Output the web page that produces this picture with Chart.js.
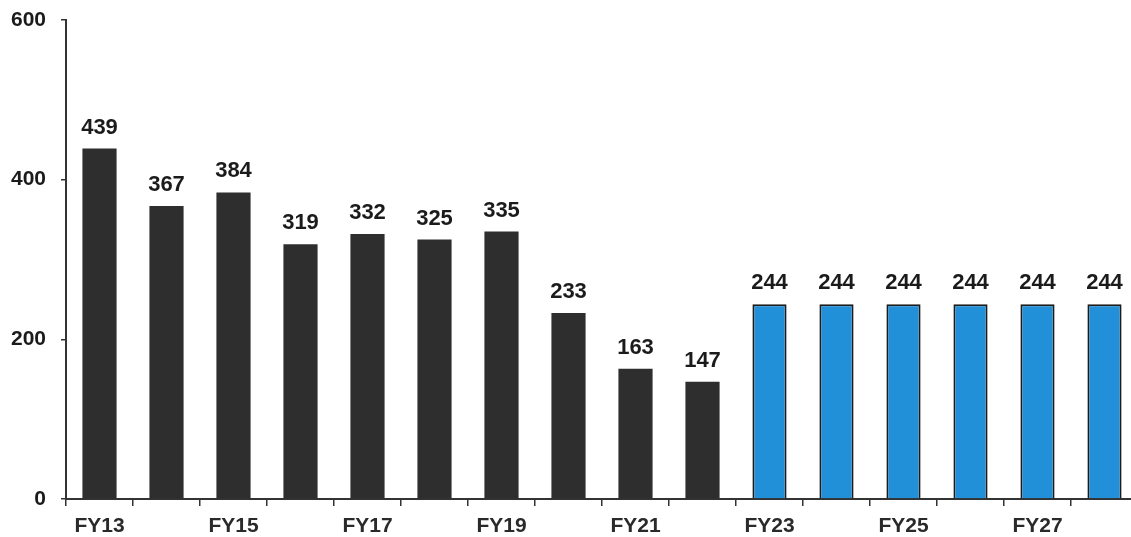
<!DOCTYPE html>
<html>
<head>
<meta charset="utf-8">
<script src="https://cdn.jsdelivr.net/npm/chart.js@4/dist/chart.umd.min.js"></script>
<style>
  html, body { margin: 0; padding: 0; background: #fff; overflow: hidden; }
  #wrap { width: 1140px; height: 537px; }
</style>
</head>
<body>
<div id="wrap"><canvas id="c" width="1140" height="537"></canvas></div>
<script>
// Fiscal years shown on the category axis
const years = ['FY13','FY14','FY15','FY16','FY17','FY18','FY19','FY20','FY21','FY22',
               'FY23','FY24','FY25','FY26','FY27','FY28'];
// Values per year (actuals followed by the flat projection)
const values = [439, 367, 384, 319, 332, 325, 335, 233, 163, 147,
                244, 244, 244, 244, 244, 244];
// Which years are projected
const projected = [false,false,false,false,false,false,false,false,false,false,
                   true,true,true,true,true,true];
// Value axis ticks
const yTicks = [0, 200, 400, 600];

const FONT = '"Liberation Sans", Arial, sans-serif';

// Writes each bar's value above it
const valueLabels = {
  id: 'valueLabels',
  afterDatasetsDraw(chart) {
    const ctx = chart.ctx;
    const meta = chart.getDatasetMeta(0);
    ctx.save();
    ctx.font = 'bold 22px ' + FONT;
    ctx.fillStyle = '#1b1b1b';
    ctx.textAlign = 'center';
    ctx.textBaseline = 'alphabetic';
    meta.data.forEach((bar, i) => {
      ctx.fillText(String(values[i]), bar.x, bar.y - 15);
    });
    ctx.restore();
  }
};

new Chart(document.getElementById('c'), {
  type: 'bar',
  data: {
    labels: years,
    datasets: [{
      data: values,
      backgroundColor: projected.map(p => p ? '#2290d8' : '#2e2e2e'),
      borderColor: projected.map(p => p ? '#1c1c1c' : '#2e2e2e'),
      borderWidth: projected.map(p => p ? 2 : 0),
      barPercentage: 0.51,
      categoryPercentage: 1.0
    }]
  },
  options: {
    responsive: false,
    animation: false,
    layout: { padding: { top: 20, right: 2, left: 0, bottom: 0 } },
    plugins: {
      legend: { display: false },
      tooltip: { enabled: false }
    },
    scales: {
      x: {
        type: 'category',
        grid: {
          display: true,
          offset: true,
          drawOnChartArea: false,
          drawTicks: true,
          tickLength: 7,
          color: '#333',
          lineWidth: 1.5
        },
        border: { display: true, color: '#333', width: 2 },
        ticks: {
          autoSkip: false,
          maxRotation: 0,
          minRotation: 0,
          padding: 8,
          color: '#2a2a2a',
          font: { family: FONT, size: 21, weight: 'bold' },
          callback: (v, i) => (i % 2 === 0 ? years[i] : '')
        },
        afterFit(scale) {
          scale.height = 38;
          scale.paddingLeft = 0;
          scale.paddingRight = 0;
        }
      },
      y: {
        min: 0,
        max: 600,
        afterBuildTicks(scale) { scale.ticks = yTicks.map(v => ({ value: v })); },
        grid: {
          display: true,
          drawOnChartArea: false,
          drawTicks: true,
          tickLength: 5,
          color: '#333',
          lineWidth: 1.5
        },
        border: { display: true, color: '#333', width: 2 },
        ticks: {
          padding: 15,
          color: '#1b1b1b',
          font: { family: FONT, size: 21, weight: 'bold' }
        },
        afterFit(scale) {
          scale.width = 66;
          scale.paddingTop = 0;
          scale.paddingBottom = 0;
        }
      }
    }
  },
  plugins: [valueLabels]
});
</script>
</body>
</html>
